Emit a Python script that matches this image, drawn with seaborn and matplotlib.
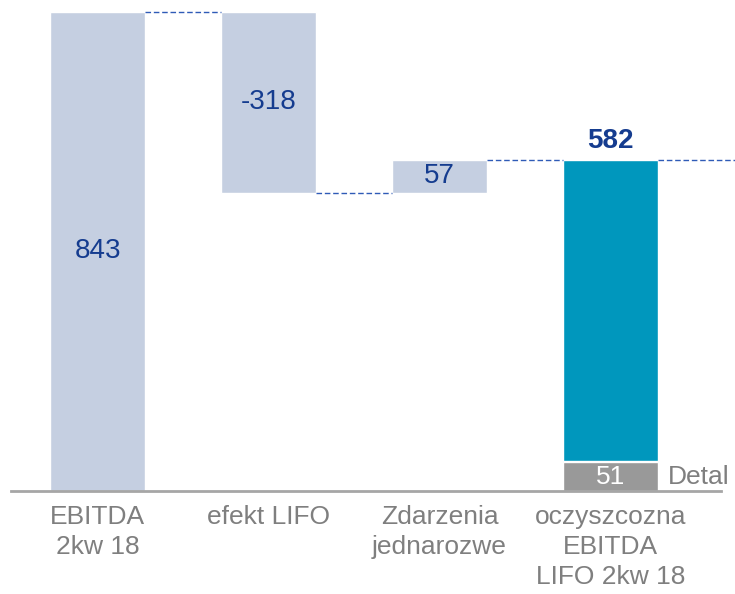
import matplotlib
matplotlib.use("Agg")
import matplotlib.pyplot as plt
import seaborn as sns

# dane
kategorie = ["EBITDA\n2kw 18", "efekt LIFO", "Zdarzenia\njednarozwe", "oczyszcozna\nEBITDA\nLIFO 2kw 18"]
zmiany = [843, -318, 57]
wynik = 582
detal = 51
etykiety = ["843", "-318", "57", "582"]

sns.set_style("white")
plt.rcParams['font.family'] = ['Liberation Sans', 'DejaVu Sans']

jasny = "#C5CFE1"
morski = "#0097BD"
szary = "#999999"
granat = "#153C8F"
kreska = "#2F5BB7"

fig = plt.figure(figsize=(7.35, 5.94), dpi=100)
ax = fig.add_axes([11/735, 103/594, 710/735, 486/594])

# policz dolne krawedzie waterfall
dol = []
gora = []
suma = 0
for z in zmiany:
    nowa = suma + z
    dol.append(min(suma, nowa))
    gora.append(max(suma, nowa))
    suma = nowa

w = 0.556
x = list(range(len(kategorie)))
ax.bar(x[:3], [g - d for g, d in zip(gora, dol)], bottom=dol, width=w, color=jasny, zorder=2)
ax.bar(x[3], detal, width=w, color=szary, zorder=2)
ax.bar(x[3], wynik - detal, bottom=detal + 1, width=w, color=morski, zorder=2)

# linie laczace
poziomy = [843, 843 - 318, wynik]
ax.plot([0 + w/2, 1 - w/2], [poziomy[0]] * 2, ls=(0, (4, 2)), color=kreska, lw=1)
ax.plot([1 + w/2, 2 - w/2], [poziomy[1]] * 2, ls=(0, (4, 2)), color=kreska, lw=1)
ax.plot([2 + w/2, 3 - w/2], [poziomy[2]] * 2, ls=(0, (4, 2)), color=kreska, lw=1)
ax.plot([3 + w/2, 3.73], [poziomy[2]] * 2, ls=(0, (4, 2)), color=kreska, lw=1, clip_on=False)

# etykiety wartosci
for i in range(3):
    ax.text(i, (gora[i] + dol[i]) / 2, etykiety[i], ha="center", va="center", fontsize=20, color=granat)
ax.text(3, wynik + 21, etykiety[3], ha="center", va="baseline", fontsize=20, fontweight="bold", color=granat)
ax.text(3, detal / 2, str(detal), ha="center", va="center", fontsize=19, color="white")
ax.text(3 + w/2 + 0.06, detal / 2, "Detal", ha="left", va="center", fontsize=19, color="#7F7F7F", clip_on=False)

ax.set_xlim(-0.506, 3.646)
ax.set_ylim(0, 855.3)
ax.set_xticks(x)
ax.set_xticklabels(kategorie, fontsize=19, color="#7F7F7F", linespacing=1.32)
ax.set_yticks([])
ax.tick_params(axis="x", length=0, pad=10)
sns.despine(ax=ax, left=True)
ax.spines["bottom"].set_color("#A6A6A6")
ax.spines["bottom"].set_linewidth(2)
ax.spines["bottom"].set_zorder(3)

fig.savefig("out.png", dpi=100)
